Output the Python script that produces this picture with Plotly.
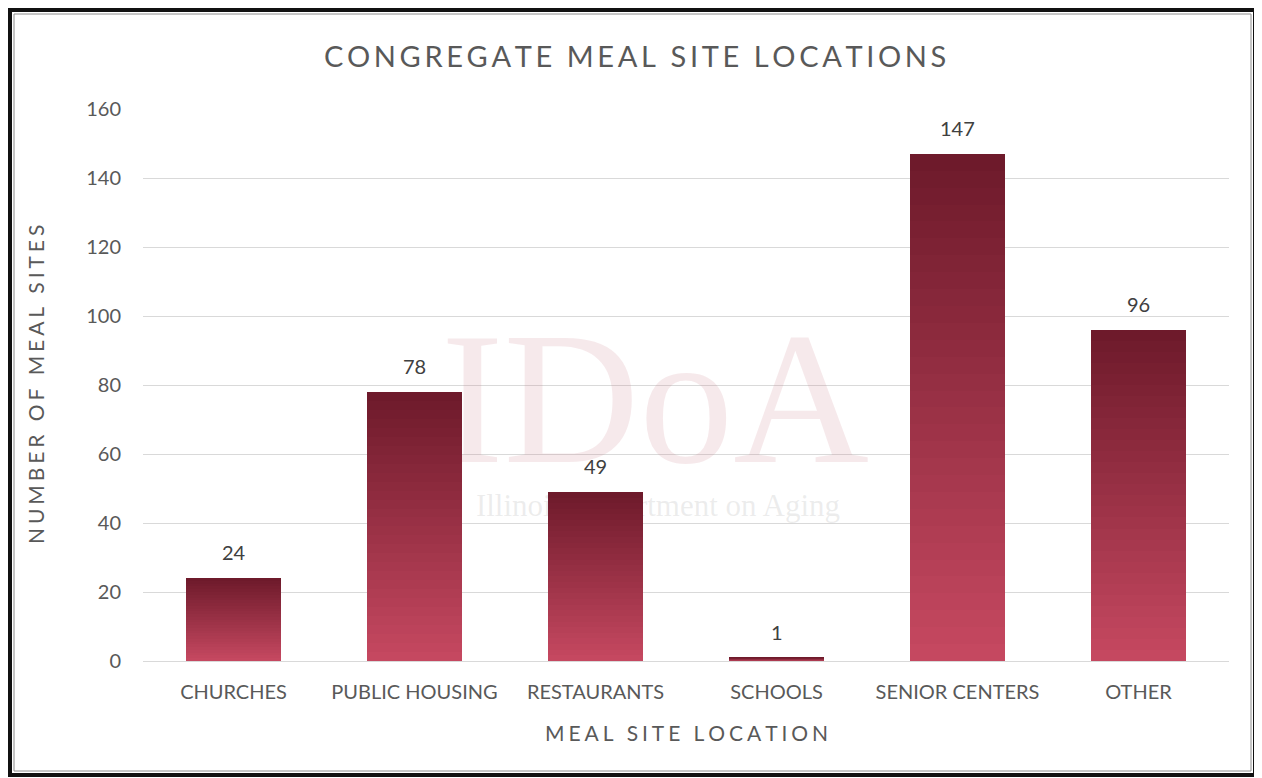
import plotly.graph_objects as go

categories = ["CHURCHES", "PUBLIC HOUSING", "RESTAURANTS", "SCHOOLS", "SENIOR CENTERS", "OTHER"]
values = [24, 78, 49, 1, 147, 96]
y_ticks = [0, 20, 40, 60, 80, 100, 120, 140, 160]

TITLE = "CONGREGATE MEAL SITE LOCATIONS"
X_TITLE = "MEAL SITE LOCATION"
Y_TITLE = "NUMBER OF MEAL SITES"
WM_BIG = "IDoA"
WM_SMALL = "Illinois Department on Aging"

PAGE_W, PAGE_H = 1262, 778
OFF = 8  # browser body margin
W, H = PAGE_W - OFF, PAGE_H - OFF
L, R, T, B = 143, 1229, 109, 661  # plot area in page pixels

def px_x(p):
    return (p - L) / (R - L)

def px_y(p):
    return (B - p) / (B - T)

FONT = "Lato, 'Open Sans', sans-serif"
GRAY = "#595959"

def spaced(s, sep="\u2009"):
    return sep.join(list(s))

fig = go.Figure()

# watermark on the base (underlying) axes so bars draw above it
fig.add_trace(go.Scatter(x=[px_x(655)], y=[px_y(415)], mode="text", text=[WM_BIG],
                         textfont=dict(family="'Liberation Serif', serif", size=188,
                                       color="rgba(200,120,130,0.16)"),
                         hoverinfo="skip", showlegend=False, xaxis="x", yaxis="y"))
fig.add_trace(go.Scatter(x=[px_x(658)], y=[px_y(508)], mode="text", text=[WM_SMALL],
                         textfont=dict(family="'Liberation Serif', serif", size=31,
                                       color="rgba(170,170,170,0.22)"),
                         hoverinfo="skip", showlegend=False, xaxis="x", yaxis="y"))

# vertical gradient bars: light at bottom, dark at top
bottom_rgb = (197, 72, 96)
top_rgb = (110, 26, 43)
N = 30
idx = list(range(len(categories)))
for k in range(N):
    t = k / (N - 1)
    c = tuple(round(bottom_rgb[j] + (top_rgb[j] - bottom_rgb[j]) * t) for j in range(3))
    fig.add_trace(go.Bar(
        x=idx, y=[v / N for v in values],
        marker=dict(color="rgb(%d,%d,%d)" % c, line=dict(width=0)),
        width=0.525, hoverinfo="skip", showlegend=False, xaxis="x2", yaxis="y2",
    ))

annotations = []
for i, v in zip(idx, values):
    annotations.append(dict(x=i, y=v, xref="x2", yref="y2", text=str(v), showarrow=False,
                            yanchor="bottom", xanchor="center", yshift=12,
                            font=dict(family=FONT, size=20, color="#404040")))

annotations.append(dict(x=px_x(35), y=px_y(385), xref="paper", yref="paper",
                        text=spaced(Y_TITLE, "\u2009\u200a"), textangle=-90, showarrow=False,
                        xanchor="center", yanchor="middle",
                        font=dict(family=FONT, size=21, color=GRAY)))
annotations.append(dict(x=px_x(686), y=px_y(732), xref="paper", yref="paper",
                        text=spaced(X_TITLE, "\u2009\u200a"), showarrow=False,
                        xanchor="center", yanchor="middle",
                        font=dict(family=FONT, size=21, color=GRAY)))
annotations.append(dict(x=px_x(635), y=px_y(55), xref="paper", yref="paper", text=spaced(TITLE),
                        showarrow=False, xanchor="center", yanchor="middle",
                        font=dict(family=FONT, size=29, color=GRAY)))

shapes = [
    dict(type="rect", xref="paper", yref="paper", x0=px_x(10), x1=px_x(1255), y0=px_y(10), y1=px_y(775),
         line=dict(color="#111111", width=4), layer="above"),
    dict(type="rect", xref="paper", yref="paper", x0=px_x(14), x1=px_x(1251), y0=px_y(14), y1=px_y(771),
         line=dict(color="#8c8c8c", width=1), layer="above"),
]

fig.update_layout(
    width=W, height=H,
    margin=dict(l=L - OFF, r=PAGE_W - R, t=T - OFF, b=PAGE_H - B),
    paper_bgcolor="white", plot_bgcolor="white",
    barmode="stack", bargap=0,
    annotations=annotations, shapes=shapes,
    xaxis=dict(range=[0, 1], visible=False, fixedrange=True),
    yaxis=dict(range=[0, 1], visible=False, fixedrange=True),
    xaxis2=dict(overlaying="x", range=[-0.5, len(categories) - 0.5], tickvals=idx, ticktext=categories,
                showgrid=False, zeroline=False, showline=False, ticks="",
                ticklabelstandoff=17, tickfont=dict(family=FONT, size=20, color=GRAY)),
    yaxis2=dict(overlaying="y", side="left", range=[0, 160], tickvals=y_ticks, showgrid=True,
                gridcolor="#d9d9d9", gridwidth=1,
                zeroline=True, zerolinecolor="#d9d9d9", zerolinewidth=1, showline=False, ticks="",
                ticklabelstandoff=21, tickfont=dict(family=FONT, size=20, color=GRAY)),
)

fig.write_html("out.html")
